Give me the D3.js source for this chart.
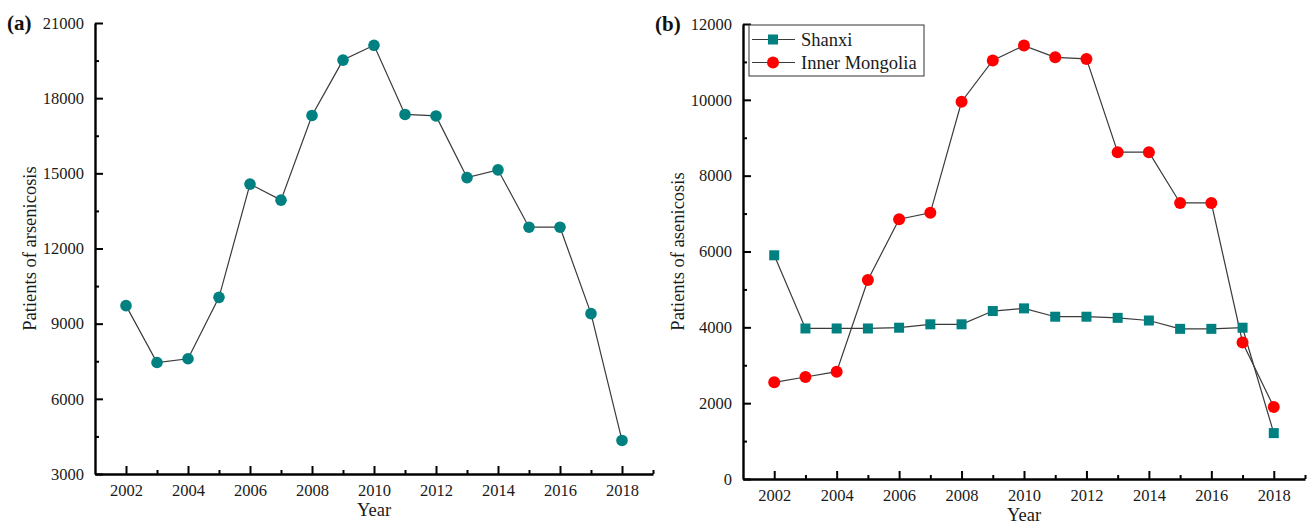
<!DOCTYPE html>
<html lang="en">
<head>
  <meta charset="UTF-8">
  <title>Patients of arsenicosis</title>
  <script src="https://d3js.org/d3.v7.min.js"></script>
  <style>
    body { margin: 0; background: #fff; font-family: "Liberation Serif", "Times New Roman", serif; }
    .tick text { font-family: "Liberation Serif", "Times New Roman", serif; font-size: 16.5px; fill: #1a1a1a; }
  </style>
</head>
<body>
  <div id="chart"></div>
  <script>
    // data
    const years = [2002, 2003, 2004, 2005, 2006, 2007, 2008, 2009, 2010, 2011, 2012, 2013, 2014, 2015, 2016, 2017, 2018];
    const totalPatients = [9720, 7450, 7600, 10050, 14570, 13930, 17310, 19520, 20110, 17350, 17290, 14830, 15140, 12850, 12850, 9400, 4340];
    const shanxi = [5900, 3970, 3970, 3970, 3990, 4080, 4080, 4430, 4500, 4280, 4280, 4250, 4180, 3960, 3960, 3990, 1210];
    const innerMongolia = [2550, 2690, 2830, 5250, 6850, 7020, 9950, 11040, 11430, 11120, 11080, 8620, 8620, 7280, 7280, 3600, 1900];

    const xMajor = [2002, 2004, 2006, 2008, 2010, 2012, 2014, 2016, 2018];
    const xMinor = [2003, 2005, 2007, 2009, 2011, 2013, 2015, 2017, 2019];
    const yMajorA = [3000, 6000, 9000, 12000, 15000, 18000, 21000];
    const yMinorA = [4500, 7500, 10500, 13500, 16500, 19500];
    const yMajorB = [0, 2000, 4000, 6000, 8000, 10000, 12000];
    const yMinorB = [1000, 3000, 5000, 7000, 9000, 11000];

    const teal = "#008080", red = "#ff0000", lineCol = "#3a3a3a";

    const svg = d3.select("#chart").append("svg")
      .attr("width", 1310).attr("height", 524);

    function drawAxes(x, y, xMaj, xMin, yMaj, yMin, ylabel, tag) {
      const x0 = x.range()[0], y0 = y.range()[0];
      // minor ticks
      svg.append("g").attr("transform", `translate(0,${y0})`)
        .call(d3.axisBottom(x).tickValues(xMin).tickFormat("").tickSize(-4).tickSizeOuter(0))
        .call(g => g.select(".domain").remove())
        .selectAll("line").attr("stroke", "#000").attr("stroke-width", 2);
      svg.append("g").attr("transform", `translate(${x0},0)`)
        .call(d3.axisLeft(y).tickValues(yMin).tickFormat("").tickSize(-4).tickSizeOuter(0))
        .call(g => g.select(".domain").remove())
        .selectAll("line").attr("stroke", "#000").attr("stroke-width", 2);

      const gx = svg.append("g").attr("transform", `translate(0,${y0})`)
        .call(d3.axisBottom(x).tickValues(xMaj).tickFormat(d3.format("d")).tickSize(-8).tickSizeOuter(0).tickPadding(10));
      const gy = svg.append("g").attr("transform", `translate(${x0},0)`)
        .call(d3.axisLeft(y).tickValues(yMaj).tickFormat(d3.format("d")).tickSize(-8).tickSizeOuter(0).tickPadding(11));
      [gx, gy].forEach(g => {
        g.select(".domain").attr("stroke", "#000").attr("stroke-width", 2.4);
        g.selectAll(".tick line").attr("stroke", "#000").attr("stroke-width", 2);
      });

      const xm = (x.range()[0] + x.range()[1]) / 2;
      svg.append("text")
        .attr("x", xm).attr("y", y0 + 42)
        .attr("text-anchor", "middle")
        .style("font-size", "18.5px").attr("fill", "#1a1a1a")
        .text("Year");

      const ym = (y.range()[0] + y.range()[1]) / 2;
      svg.append("text")
        .attr("transform", `translate(${x0 - 59},${ym}) rotate(-90)`)
        .attr("text-anchor", "middle")
        .style("font-size", "18.5px").attr("fill", "#1a1a1a")
        .text(ylabel);

      svg.append("text")
        .attr("x", x0 - 88).attr("y", y.range()[1] + 7)
        .style("font-size", "21px").style("font-weight", "bold").attr("fill", "#111")
        .text(tag);
    }

    // panel (a)
    const xA = d3.scaleLinear().domain([2001, 2019]).range([95, 653]);
    const yA = d3.scaleLinear().domain([3000, 21000]).range([474, 23]);
    drawAxes(xA, yA, xMajor, xMinor, yMajorA, yMinorA, "Patients of arsenicosis", "(a)");

    const lineA = d3.line().x((d, i) => xA(years[i])).y(d => yA(d));
    svg.append("path").datum(totalPatients)
      .attr("d", lineA).attr("fill", "none").attr("stroke", lineCol).attr("stroke-width", 1.2);
    svg.selectAll(".ptA").data(totalPatients).enter().append("circle")
      .attr("cx", (d, i) => xA(years[i])).attr("cy", d => yA(d))
      .attr("r", 5.8).attr("fill", teal);

    // panel (b)
    const xB = d3.scaleLinear().domain([2001, 2019]).range([743, 1305]);
    const yB = d3.scaleLinear().domain([0, 12000]).range([479, 24]);
    drawAxes(xB, yB, xMajor, xMinor, yMajorB, yMinorB, "Patients of asenicosis", "(b)");

    const lineB = d3.line().x((d, i) => xB(years[i])).y(d => yB(d));
    svg.append("path").datum(shanxi)
      .attr("d", lineB).attr("fill", "none").attr("stroke", lineCol).attr("stroke-width", 1.2);
    svg.append("path").datum(innerMongolia)
      .attr("d", lineB).attr("fill", "none").attr("stroke", lineCol).attr("stroke-width", 1.2);
    svg.selectAll(".ptS").data(shanxi).enter().append("rect")
      .attr("x", (d, i) => xB(years[i]) - 5).attr("y", d => yB(d) - 5)
      .attr("width", 10).attr("height", 10).attr("fill", teal);
    svg.selectAll(".ptM").data(innerMongolia).enter().append("circle")
      .attr("cx", (d, i) => xB(years[i])).attr("cy", d => yB(d))
      .attr("r", 6).attr("fill", red);

    // legend
    const lg = svg.append("g").attr("transform", "translate(749,25)");
    lg.append("rect").attr("width", 175).attr("height", 51)
      .attr("fill", "#fff").attr("stroke", "#333").attr("stroke-width", 1);
    const entries = [{name: "Shanxi", shape: "square"}, {name: "Inner Mongolia", shape: "circle"}];
    entries.forEach((e, i) => {
      const cy = 14.5 + i * 23;
      lg.append("line").attr("x1", 3).attr("x2", 46).attr("y1", cy).attr("y2", cy)
        .attr("stroke", lineCol).attr("stroke-width", 1.2);
      if (e.shape === "square") {
        lg.append("rect").attr("x", 24 - 5).attr("y", cy - 5).attr("width", 10).attr("height", 10).attr("fill", teal);
      } else {
        lg.append("circle").attr("cx", 24).attr("cy", cy).attr("r", 6).attr("fill", red);
      }
      lg.append("text").attr("x", 52).attr("y", cy + 6)
        .style("font-size", "18.5px").attr("fill", "#1a1a1a").text(e.name);
    });
  </script>
</body>
</html>
